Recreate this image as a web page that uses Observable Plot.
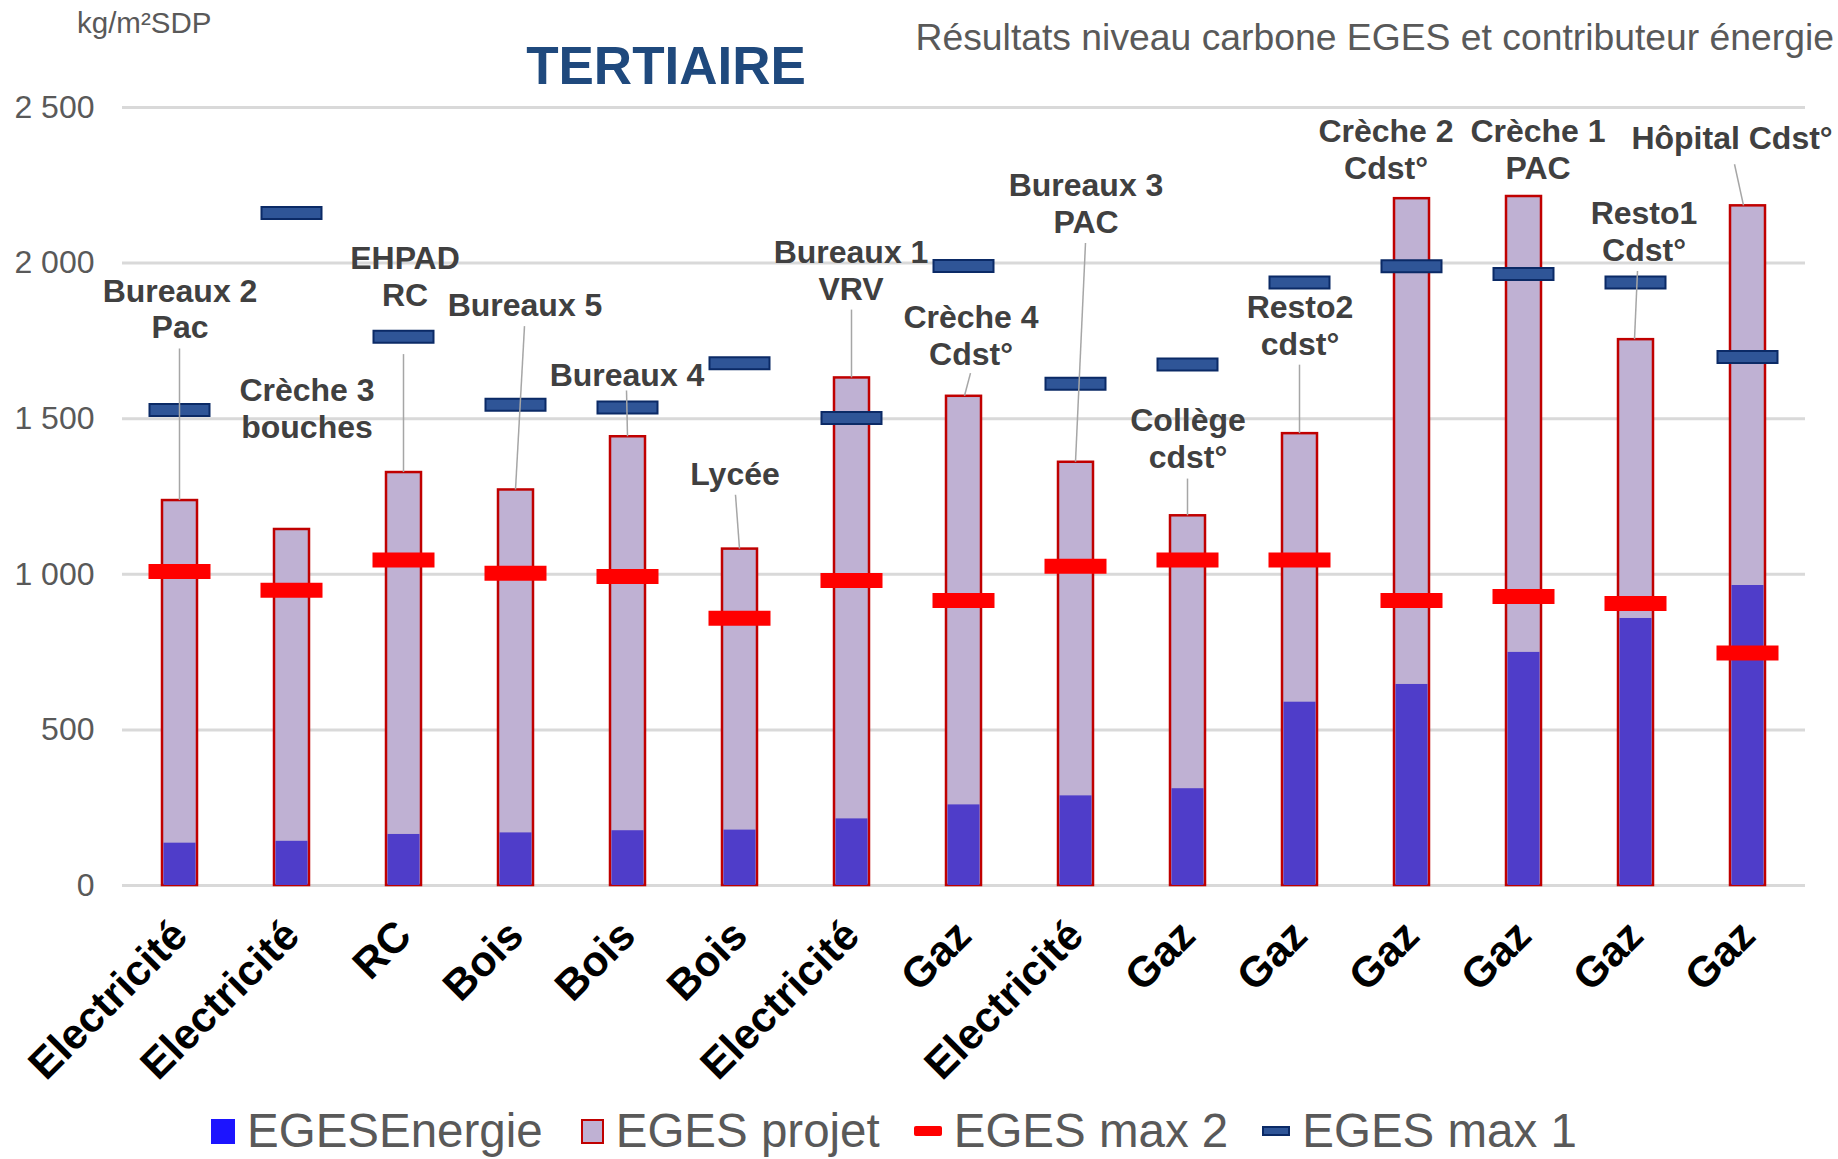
<!DOCTYPE html>
<html><head><meta charset="utf-8">
<script src="https://cdn.jsdelivr.net/npm/d3@7"></script>
<script src="https://cdn.jsdelivr.net/npm/@observablehq/plot@0.6"></script>
<style>
body{margin:0;background:#fff;}
#wrap{position:relative;width:1838px;height:1159px;overflow:hidden;font-family:"Liberation Sans",Arial,sans-serif;}
#chart{position:absolute;left:0;top:0;}
.unit{position:absolute;left:77px;top:8px;font-size:29.5px;line-height:29px;color:#595959;white-space:nowrap}
.title{position:absolute;left:666px;top:39px;transform:translateX(-50%);font-size:53px;line-height:53px;font-weight:bold;color:#1f497d;white-space:nowrap}
.subtitle{position:absolute;right:4px;top:19px;font-size:37.3px;line-height:36px;color:#595959;white-space:nowrap}
.legend{position:absolute;left:211px;top:1108px;height:46px;display:flex;align-items:center;font-size:47.5px;line-height:46px;color:#595959;white-space:nowrap}
.legend .item{display:flex;align-items:center;margin-right:34px}
.legend .item:first-child{margin-right:38px}
.legend .sw{margin-right:12px;box-sizing:border-box}
.sw.energie{width:24px;height:25px;background:#1c14ff}
.sw.projet{width:23px;height:25px;background:#bfb1d3;border:2px solid #c00000}
.sw.max2{width:28px;height:10px;background:#ff0000;border-radius:2px}
.sw.max1{width:28px;height:10px;background:#2f5597;border:2px solid #0b2a66}
</style>
</head><body>
<div id="wrap">
  <div id="chart"></div>
  <div class="unit">kg/m²SDP</div>
  <div class="title">TERTIAIRE</div>
  <div class="subtitle">Résultats niveau carbone EGES et contributeur énergie</div>
  <div class="legend">
    <div class="item"><div class="sw energie"></div>EGESEnergie</div>
    <div class="item"><div class="sw projet"></div>EGES projet</div>
    <div class="item"><div class="sw max2"></div>EGES max 2</div>
    <div class="item"><div class="sw max1"></div>EGES max 1</div>
  </div>
</div>
<script>
// ---- data ----
const buildings = ["Bureaux 2 Pac","Crèche 3 bouches","EHPAD RC","Bureaux 5","Bureaux 4","Lycée","Bureaux 1 VRV","Crèche 4 Cdst°","Bureaux 3 PAC","Collège cdst°","Resto2 cdst°","Crèche 2 Cdst°","Crèche 1 PAC","Resto1 Cdst°","Hôpital Cdst°"];
const energyType = ["Electricité","Electricité","RC","Bois","Bois","Bois","Electricité","Gaz","Electricité","Gaz","Gaz","Gaz","Gaz","Gaz","Gaz"];
const egesEnergie = [136,142,164,169,176,178,214,259,288,311,589,646,749,858,964];
const egesProjet  = [1237,1144,1327,1271,1442,1081,1631,1572,1360,1188,1452,2207,2214,1754,2184];
const egesMax2    = [1009,949,1046,1003,993,859,980,916,1026,1046,1046,916,929,906,747];
const egesMax1    = [1528,2161,1763,1545,1536,1678,1502,1991,1612,1674,1938,1990,1965,1938,1698];
const labelText   = ["Bureaux 2\nPac","Crèche 3\nbouches","EHPAD\nRC","Bureaux 5","Bureaux 4","Lycée","Bureaux 1\nVRV","Crèche 4\nCdst°","Bureaux 3\nPAC","Collège\ncdst°","Resto2\ncdst°","Crèche 2\nCdst°","Crèche 1\nPAC","Resto1\nCdst°","Hôpital Cdst°"];
const yTicks = [0,500,1000,1500,2000,2500];

// ---- annotation layout (label centre level in y units, leader start level) ----
const labelAt    = [1855,1536,1960,1868,1642,1326,1978,1770,2193,1438,1802,2367,2368,2105,2406];
const leaderFrom = [1724,null,1706,1796,1589,1254,1849,1645,2063,1306,1672,null,null,1973,2316];
const labelShift = [0,15,1,9,-1,-5,-1,7,10,0,0,-26,14,8,-16];
const leaderTopShift = [0,0,0,9,-1,-4,0,7,10,0,0,0,0,2,-13];
const leaderEndShift = [0,0,0,0,0,0,0,1,0,0,0,0,0,-1,-4];

const rows = buildings.map((b,i)=>({building:b, type:energyType[i], energie:egesEnergie[i], projet:egesProjet[i], max2:egesMax2[i], max1:egesMax1[i], label:labelText[i], labelAt:labelAt[i], leaderFrom:leaderFrom[i]}));

const fmt = d => d3.format(",")(d).replace(/,/g, " ");

function leaders(index, scales) {
  const sx = scales.x, sy = scales.y;
  const bw = typeof sx.bandwidth === "function" ? sx.bandwidth() : (sx.bandwidth ?? 0);
  const g = d3.create("svg:g").attr("stroke", "#a6a6a6").attr("stroke-width", 1.5);
  rows.forEach((r, i) => {
    if (r.leaderFrom == null) return;
    const xc = sx(r.building) + bw / 2;
    g.append("line")
      .attr("x1", xc + leaderTopShift[i]).attr("y1", sy(r.leaderFrom))
      .attr("x2", xc + leaderEndShift[i]).attr("y2", sy(r.projet));
  });
  return g.node();
}

const labelMarks = rows.map((r, i) => Plot.text([r], {
  x: "building", y: "labelAt", text: "label", dx: labelShift[i],
  fontSize: 32, fontWeight: "bold", fill: "#404040", lineHeight: 1.15, lineAnchor: "middle"
}));

const chart = Plot.plot({
  width: 1838, height: 1159,
  marginLeft: 122, marginRight: 33, marginTop: 107, marginBottom: 274,
  style: {fontFamily: "Liberation Sans, Arial, sans-serif", background: "transparent", overflow: "visible"},
  x: {domain: buildings, type: "band", paddingInner: 0.688, paddingOuter: 0.344, label: null},
  y: {domain: [0, 2500], label: null},
  marks: [
    Plot.gridY(yTicks, {stroke: "#d9d9d9", strokeOpacity: 1, strokeWidth: 3}),
    Plot.axisY(yTicks, {tickSize: 0, tickPadding: 28, fontSize: 32, fill: "#595959", tickFormat: fmt, label: null}),
    Plot.axisX({tickRotate: -45, tickSize: 0, tickPadding: 43, fontSize: 42.5, fontWeight: "bold", fill: "#000", label: null,
                tickFormat: d => energyType[buildings.indexOf(d)]}),
    Plot.barY(rows, {x: "building", y: "projet", fill: "#bfb1d3", stroke: "#c00000", strokeWidth: 2.5}),
    Plot.barY(rows, {x: "building", y: "energie", fill: "#4f3dc9", insetLeft: 1.5, insetRight: 1.5}),
    Plot.tickY(rows, {x: "building", y: "max2", stroke: "#ff0000", strokeWidth: 15, insetLeft: -13.5, insetRight: -13.5}),
    Plot.tickY(rows, {x: "building", y: "max1", stroke: "#0b2a66", strokeWidth: 14, insetLeft: -13.5, insetRight: -13.5}),
    Plot.tickY(rows, {x: "building", y: "max1", stroke: "#2f5597", strokeWidth: 10, insetLeft: -11.5, insetRight: -11.5}),
    leaders,
    ...labelMarks
  ]
});
document.getElementById("chart").appendChild(chart);
</script>
</body></html>
